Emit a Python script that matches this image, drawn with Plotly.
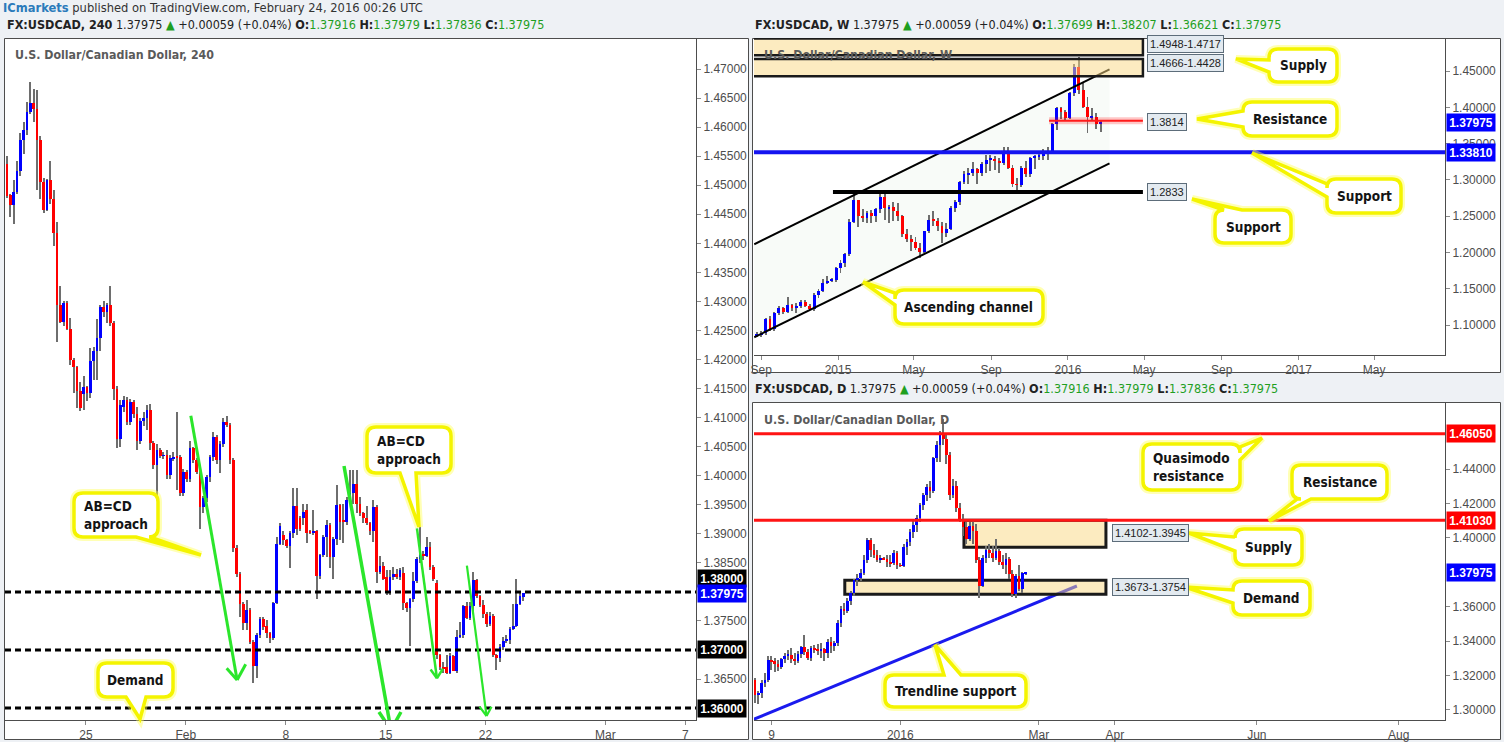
import numpy as np
import pandas as pd
import plotly.graph_objects as go

W, H = 1504, 742
NARROW = "Liberation Sans Narrow, Arial Narrow, DejaVu Sans Condensed, sans-serif"
AXISF = "Liberation Sans, Arial, sans-serif"

# ---------------- 4h candles (USDCAD, 240) ----------------
h4_open = [1.4537,1.4483,1.4466,1.4488,1.4525,1.4578,1.4595,1.4626,1.4641,1.4631,
           1.4577,1.4505,1.4458,1.4509,1.4477,1.4417,1.4293,1.4265,1.4297,1.4253,
           1.4200,1.4187,1.4146,1.4140,1.4152,1.4142,1.4197,1.4214,1.4237,1.4290,
           1.4281,1.4293,1.4262,1.4149,1.4063,1.4118,1.4130,1.4093,1.4127,1.4107,
           1.4059,1.4095,1.4099,1.4113,1.4056,1.4018,1.4045,1.4034,1.4035,1.4001,
           1.4030,1.4033,1.4032,1.3970,1.4007,1.3995,1.4047,1.4027,1.4007,1.3946,
           1.3961,1.3998,1.4032,1.4066,1.4027,1.4055,1.4093,1.4087,1.4027,1.3875,
           1.3831,1.3779,1.3747,1.3768,1.3714,1.3673,1.3726,1.3753,1.3741,1.3729,
           1.3720,1.3781,1.3883,1.3898,1.3889,1.3879,1.3901,1.3948,1.3927,1.3927,
           1.3941,1.3904,1.3902,1.3904,1.3827,1.3864,1.3894,1.3915,1.3860,1.3891,
           1.3950,1.3923,1.3921,1.3958,1.3970,1.3986,1.3952,1.3935,1.3927,1.3919,
           1.3904,1.3946,1.3835,1.3845,1.3826,1.3800,1.3826,1.3831,1.3826,1.3833,
           1.3781,1.3772,1.3787,1.3818,1.3856,1.3864,1.3862,1.3877,1.3843,1.3816,
           1.3691,1.3670,1.3670,1.3660,1.3690,1.3664,1.3723,1.3725,1.3776,1.3755,
           1.3776,1.3820,1.3793,1.3777,1.3762,1.3745,1.3759,1.3691,1.3687,1.3706,
           1.3716,1.3718,1.3737,1.3741,1.3780,1.37916]
h4_high = [1.4550,1.4485,1.4509,1.4542,1.4590,1.4608,1.4644,1.4678,1.4665,1.4664,
           1.4585,1.4512,1.4511,1.4542,1.4492,1.4436,1.4327,1.4300,1.4301,1.4272,
           1.4202,1.4189,1.4162,1.4172,1.4155,1.4219,1.4222,1.4270,1.4293,1.4301,
           1.4298,1.4327,1.4267,1.4155,1.4130,1.4138,1.4135,1.4132,1.4130,1.4119,
           1.4099,1.4110,1.4122,1.4124,1.4060,1.4055,1.4048,1.4040,1.4044,1.4035,
           1.4040,1.4109,1.4036,1.4012,1.4010,1.4059,1.4050,1.4030,1.4010,1.3965,
           1.4002,1.4036,1.4076,1.4070,1.4060,1.4099,1.4103,1.4090,1.4030,1.3880,
           1.3835,1.3783,1.3786,1.3772,1.3718,1.3730,1.3757,1.3757,1.3752,1.3731,
           1.3783,1.3895,1.3919,1.3904,1.3891,1.3904,1.3978,1.3978,1.3930,1.3952,
           1.3952,1.3906,1.3941,1.3906,1.3866,1.3898,1.3924,1.3918,1.3895,1.3984,
           1.3952,1.3952,1.3964,1.4010,1.4010,1.4010,1.3964,1.3938,1.3947,1.3921,
           1.3958,1.3950,1.3862,1.3852,1.3838,1.3838,1.3843,1.3840,1.3841,1.3843,
           1.3783,1.3790,1.3835,1.3860,1.3911,1.3870,1.3895,1.3886,1.3846,1.3820,
           1.3693,1.3680,1.3691,1.3695,1.3691,1.3734,1.3749,1.3777,1.3783,1.3783,
           1.3835,1.3822,1.3795,1.3786,1.3766,1.3766,1.3762,1.3693,1.3710,1.3723,
           1.3726,1.3740,1.3780,1.3822,1.3798,1.37979]
h4_low = [1.4478,1.4445,1.4433,1.4485,1.4516,1.4554,1.4586,1.4622,1.4609,1.4491,
          1.4476,1.4452,1.4456,1.4468,1.4396,1.4230,1.4262,1.4258,1.4250,1.4191,
          1.4142,1.4116,1.4112,1.4113,1.4128,1.4133,1.4165,1.4164,1.4215,1.4273,
          1.4263,1.4258,1.4130,1.4047,1.4050,1.4110,1.4088,1.4088,1.4100,1.4044,
          1.4055,1.4085,1.4079,1.4044,1.4012,1.3949,1.4030,1.4028,1.3995,1.3995,
          1.4025,1.3975,1.3965,1.3965,1.3990,1.3990,1.4022,1.4003,1.3909,1.3935,
          1.3955,1.3990,1.4025,1.4020,1.4004,1.4050,1.4083,1.4020,1.3869,1.3825,
          1.3757,1.3734,1.3734,1.3710,1.3643,1.3651,1.3720,1.3735,1.3720,1.3712,
          1.3717,1.3779,1.3881,1.3881,1.3876,1.3842,1.3892,1.3898,1.3905,1.3915,
          1.3884,1.3900,1.3898,1.3787,1.3822,1.3860,1.3860,1.3842,1.3822,1.3880,
          1.3889,1.3885,1.3915,1.3952,1.3952,1.3935,1.3930,1.3918,1.3915,1.3898,
          1.3886,1.3815,1.3831,1.3820,1.3795,1.3795,1.3820,1.3822,1.3820,1.3769,
          1.3765,1.3707,1.3783,1.3815,1.3850,1.3855,1.3860,1.3838,1.3818,1.3685,
          1.3666,1.3660,1.3658,1.3658,1.3663,1.3660,1.3720,1.3720,1.3753,1.3752,
          1.3763,1.3790,1.3774,1.3755,1.3740,1.3742,1.3688,1.3666,1.3680,1.3700,
          1.3712,1.3710,1.3735,1.3740,1.3778,1.37836]
h4_close = [1.4482,1.4466,1.4488,1.4525,1.4578,1.4595,1.4626,1.4641,1.4631,1.4577,
            1.4505,1.4458,1.4509,1.4477,1.4417,1.4293,1.4265,1.4297,1.4253,1.4200,
            1.4187,1.4146,1.4116,1.4152,1.4142,1.4197,1.4214,1.4237,1.4290,1.4281,
            1.4293,1.4262,1.4149,1.4063,1.4122,1.4130,1.4093,1.4127,1.4107,1.4059,
            1.4095,1.4099,1.4113,1.4056,1.4018,1.4045,1.4034,1.4035,1.4001,1.4030,
            1.4033,1.4032,1.3970,1.4007,1.3995,1.4047,1.4027,1.4007,1.3946,1.3961,
            1.3998,1.4032,1.4066,1.4027,1.4055,1.4093,1.4087,1.4027,1.3875,1.3831,
            1.3779,1.3747,1.3768,1.3714,1.3673,1.3726,1.3753,1.3740,1.3729,1.3720,
            1.3781,1.3883,1.3913,1.3889,1.3879,1.3901,1.3948,1.3908,1.3909,1.3938,
            1.3902,1.3902,1.3904,1.3827,1.3864,1.3894,1.3915,1.3860,1.3891,1.3950,
            1.3921,1.3921,1.3958,1.3970,1.3986,1.3952,1.3935,1.3927,1.3919,1.3904,
            1.3946,1.3835,1.3845,1.3823,1.3800,1.3826,1.3831,1.3826,1.3838,1.3781,
            1.3772,1.3787,1.3818,1.3856,1.3864,1.3862,1.3877,1.3843,1.3823,1.3691,
            1.3670,1.3668,1.3660,1.3690,1.3664,1.3723,1.3725,1.3776,1.3755,1.3776,
            1.3820,1.3793,1.3777,1.3762,1.3745,1.3759,1.3691,1.3687,1.3706,1.3716,
            1.3718,1.3737,1.3741,1.3780,1.3793,1.37975]
h4_tick_pos = [23.7, 53.7, 83.7, 113.7, 143.7, 179.7, 203.7]
h4_tick_text = ["25", "Feb", "8", "15", "22", "Mar", "7"]
h4_price_ticks = [1.365, 1.375, 1.385, 1.39, 1.395, 1.40, 1.405, 1.41, 1.415, 1.42, 1.425,
                  1.43, 1.435, 1.44, 1.445, 1.45, 1.455, 1.46, 1.465, 1.47]
h4_levels = [1.38, 1.37, 1.36]

# ---------------- weekly candles ----------------
w_first_week = "2014-08-25"
w_open = [1.0850,1.0875,1.0890,1.1090,1.0945,1.1160,1.1240,1.1185,1.1275,1.1230,
          1.1265,1.1320,1.1265,1.1225,1.1415,1.1470,1.1585,1.1612,1.1625,1.1780,
          1.1860,1.1980,1.2425,1.2720,1.2500,1.2470,1.2540,1.2500,1.2600,1.2770,
          1.2610,1.2630,1.2570,1.2500,1.2250,1.2180,1.2150,1.2060,1.2010,1.2290,
          1.2450,1.2440,1.2370,1.2270,1.2330,1.2610,1.2690,1.2970,1.3080,1.3100,
          1.3155,1.3090,1.3215,1.3280,1.3290,1.3260,1.3230,1.3398,1.3169,1.2939,
          1.2930,1.3169,1.3077,1.3307,1.3320,1.3330,1.3360,1.3390,1.3766,1.3995,
          1.3935,1.3858,1.4193,1.4560,1.4240,1.4010,1.3860,1.3870,1.37699]
w_high = [1.0900,1.0920,1.1100,1.1120,1.1180,1.1260,1.1250,1.1390,1.1290,1.1300,
          1.1350,1.1340,1.1290,1.1440,1.1500,1.1640,1.1680,1.1650,1.1800,1.1900,
          1.2000,1.2460,1.2800,1.2730,1.2600,1.2570,1.2590,1.2620,1.2835,1.2800,
          1.2660,1.2700,1.2680,1.2510,1.2320,1.2240,1.2220,1.2130,1.2300,1.2510,
          1.2565,1.2480,1.2420,1.2400,1.2640,1.2730,1.2990,1.3120,1.3170,1.3250,
          1.3160,1.3240,1.3350,1.3350,1.3330,1.3300,1.3460,1.3450,1.3200,1.3020,
          1.3190,1.3260,1.3320,1.3340,1.3400,1.3420,1.3460,1.3790,1.4010,1.4005,
          1.3960,1.4210,1.4595,1.4690,1.4330,1.4140,1.3990,1.3920,1.38207]
w_low = [1.0830,1.0840,1.0860,1.0920,1.0920,1.1140,1.1150,1.1170,1.1200,1.1160,
         1.1240,1.1250,1.1210,1.1200,1.1380,1.1450,1.1560,1.1590,1.1600,1.1720,
         1.1800,1.1950,1.2400,1.2350,1.2420,1.2400,1.2400,1.2420,1.2540,1.2450,
         1.2400,1.2440,1.2440,1.2220,1.2140,1.2020,1.2030,1.1920,1.1990,1.2270,
         1.2360,1.2290,1.2130,1.2220,1.2310,1.2560,1.2650,1.2940,1.2950,1.3050,
         1.2950,1.3060,1.3100,1.3120,1.3130,1.3090,1.3210,1.3150,1.2900,1.2832,
         1.2900,1.3040,1.3040,1.3150,1.3270,1.3270,1.3280,1.3380,1.3690,1.3840,
         1.3820,1.3840,1.4150,1.4180,1.3990,1.3650,1.3820,1.3705,1.36621]
w_close = [1.0875,1.0890,1.1090,1.0945,1.1160,1.1240,1.1185,1.1275,1.1230,1.1265,
           1.1320,1.1265,1.1225,1.1415,1.1470,1.1585,1.1612,1.1625,1.1780,1.1860,
           1.1980,1.2425,1.2720,1.2500,1.2470,1.2540,1.2500,1.2600,1.2770,1.2610,
           1.2630,1.2570,1.2500,1.2250,1.2180,1.2150,1.2060,1.2010,1.2290,1.2450,
           1.2440,1.2370,1.2270,1.2330,1.2610,1.2690,1.2970,1.3080,1.3100,1.3155,
           1.3090,1.3215,1.3280,1.3290,1.3260,1.3230,1.3398,1.3169,1.2939,1.2930,
           1.3169,1.3077,1.3307,1.3320,1.3330,1.3360,1.3390,1.3766,1.3995,1.3935,
           1.3858,1.4193,1.4560,1.4240,1.4010,1.3860,1.3870,1.3770,1.37975]
w_tick_dates = ["2014-09-01", "2015-01-01", "2015-05-01", "2015-09-01", "2016-01-01",
                "2016-05-01", "2016-09-01", "2017-01-01", "2017-05-01"]
w_tick_text = ["Sep", "2015", "May", "Sep", "2016", "May", "Sep", "2017", "May"]
w_supply_zones = [(1.4717, 1.4948), (1.4428, 1.4666)]
w_resistance = 1.3814
w_support = 1.3381
w_support2 = 1.2833

# ---------------- daily candles ----------------
d_first_index = -5   # 2 Nov 2015; index 0 = 9 Nov 2015 (trading days)
d_open = [1.3170,1.3085,1.3095,1.3155,1.3175, 1.3290,1.3280,1.3268,1.3250,1.3292,
          1.3312,1.3318,1.3295,1.3280,1.3322, 1.3362,1.3335,1.3300,1.3360,1.3352,
          1.3345,1.3352,1.3330,1.3392,1.3372, 1.3388,1.3505,1.3585,1.3576,1.3630,
          1.3680,1.3755,1.3765,1.3795,1.3870, 1.3985,1.3930,1.3900,1.3868,1.3882,
          1.3875,1.3860,1.3852,1.3912,1.3840, 1.3836,1.3945,1.3972,1.4030,1.4072,
          1.4115,1.4190,1.4250,1.4292,1.4270, 1.4460,1.4540,1.4605,1.4575,1.4480,
          1.4250,1.4300,1.4170,1.4110,1.4060, 1.3990,1.4065,1.4040,1.3870,1.3720,
          1.3880,1.3930,1.3910,1.3880,1.3925, 1.3860,1.3840,1.3875,1.3790,1.3670,
          1.3775,1.3700,1.37916]
d_high = [1.3185,1.3110,1.3170,1.3210,1.3310, 1.3310,1.3300,1.3290,1.3300,1.3330,
          1.3345,1.3360,1.3330,1.3340,1.3370, 1.3436,1.3350,1.3370,1.3375,1.3380,
          1.3390,1.3360,1.3410,1.3420,1.3400, 1.3520,1.3600,1.3620,1.3650,1.3690,
          1.3760,1.3790,1.3820,1.3900,1.3995, 1.3995,1.3960,1.3930,1.3900,1.3890,
          1.3900,1.3900,1.3930,1.3920,1.3850, 1.3960,1.3990,1.4050,1.4100,1.4130,
          1.4200,1.4260,1.4310,1.4330,1.4470, 1.4560,1.4620,1.4690,1.4610,1.4500,
          1.4340,1.4330,1.4200,1.4140,1.4090, 1.4090,1.4100,1.4080,1.3890,1.3900,
          1.3950,1.3960,1.3950,1.3990,1.3940, 1.3900,1.3910,1.3885,1.3810,1.3790,
          1.3840,1.3800,1.37979]
d_low = [1.3040,1.3035,1.3070,1.3130,1.3160, 1.3230,1.3220,1.3225,1.3235,1.3270,
         1.3290,1.3270,1.3260,1.3270,1.3300, 1.3320,1.3290,1.3280,1.3330,1.3320,
         1.3300,1.3280,1.3300,1.3330,1.3340, 1.3370,1.3480,1.3550,1.3560,1.3610,
         1.3660,1.3720,1.3745,1.3780,1.3850, 1.3890,1.3880,1.3860,1.3850,1.3868,
         1.3830,1.3830,1.3840,1.3820,1.3830, 1.3830,1.3900,1.3950,1.4000,1.4030,
         1.4090,1.4160,1.4210,1.4230,1.4260, 1.4440,1.4440,1.4540,1.4430,1.4220,
         1.4230,1.4150,1.4090,1.4010,1.3960, 1.3980,1.3960,1.3850,1.3650,1.3710,
         1.3850,1.3880,1.3860,1.3870,1.3840, 1.3820,1.3790,1.3760,1.3655,1.3650,
         1.3690,1.3680,1.37836]
d_close = [1.3085,1.3095,1.3155,1.3175,1.3290, 1.3280,1.3268,1.3250,1.3292,1.3312,
           1.3318,1.3295,1.3280,1.3322,1.3362, 1.3335,1.3300,1.3360,1.3352,1.3345,
           1.3352,1.3330,1.3392,1.3372,1.3388, 1.3505,1.3585,1.3576,1.3630,1.3680,
           1.3755,1.3765,1.3795,1.3870,1.3985, 1.3930,1.3900,1.3868,1.3882,1.3875,
           1.3860,1.3852,1.3912,1.3840,1.3836, 1.3945,1.3972,1.4030,1.4072,1.4115,
           1.4190,1.4250,1.4292,1.4270,1.4460, 1.4540,1.4605,1.4575,1.4480,1.4250,
           1.4300,1.4170,1.4110,1.4060,1.3990, 1.4065,1.4040,1.3870,1.3720,1.3880,
           1.3930,1.3910,1.3880,1.3925,1.3860, 1.3840,1.3875,1.3790,1.3670,1.3775,
           1.3700,1.3792,1.37975]
d_tick_pos = [0, 39, 81, 104, 147, 190]
d_tick_text = ["9", "2016", "Mar", "Apr", "Jun", "Aug"]
d_price_ticks = [1.30, 1.32, 1.34, 1.36, 1.40, 1.42, 1.44]
d_qm_resistance = 1.4605
d_resistance = 1.4103
d_supply = (1.3945, 1.4102)
d_demand = (1.3673, 1.3754)
last_price = 1.37975

# ---------------- helpers ----------------
UP, DN, WICK = "#0000ff", "#ff0000", "#6e6e6e"


def candles(x, o, h, l, c, xa, ya, body_w, wick_w, min_body):
    o, h, l, c = map(np.asarray, (o, h, l, c))
    x = np.asarray(x)
    out = [go.Bar(x=x, y=h - l, base=l, width=wick_w, xaxis=xa, yaxis=ya,
                  marker=dict(color=WICK, line=dict(width=0)), hoverinfo="skip")]
    base = np.minimum(o, c)
    hgt = np.maximum(np.abs(c - o), min_body)
    up = c >= o
    for m, col in ((up, UP), (~up, DN)):
        out.append(go.Bar(x=x[m], y=hgt[m], base=base[m], width=body_w, xaxis=xa, yaxis=ya,
                          marker=dict(color=col, line=dict(width=0)), hoverinfo="skip"))
    return out


def P(x, y):
    return f"{x / W:.5f},{1 - y / H:.5f}"


def callout_path(box, side, b0, b1, tip, r=9):
    x0, y0, x1, y1 = box
    tx, ty = tip
    s = f"M {P(x0 + r, y0)}"
    if side == "top":
        s += f" L {P(b0, y0)} L {P(tx, ty)} L {P(b1, y0)}"
    s += f" L {P(x1 - r, y0)} Q {P(x1, y0)} {P(x1, y0 + r)}"
    if side == "right":
        s += f" L {P(x1, b0)} L {P(tx, ty)} L {P(x1, b1)}"
    s += f" L {P(x1, y1 - r)} Q {P(x1, y1)} {P(x1 - r, y1)}"
    if side == "bottom":
        s += f" L {P(b1, y1)} L {P(tx, ty)} L {P(b0, y1)}"
    s += f" L {P(x0 + r, y1)} Q {P(x0, y1)} {P(x0, y1 - r)}"
    if side == "left":
        s += f" L {P(x0, b1)} L {P(tx, ty)} L {P(x0, b0)}"
    s += f" L {P(x0, y0 + r)} Q {P(x0, y0)} {P(x0 + r, y0)} Z"
    return s


fig = go.Figure()

h4_x = np.arange(len(h4_open))
for t in candles(h4_x, h4_open, h4_high, h4_low, h4_close, "x", "y", 0.8, 0.32, 0.00008):
    fig.add_trace(t)

w_x = pd.date_range(w_first_week, periods=len(w_open), freq="7D")
DAY = 86400000
for t in candles(w_x, w_open, w_high, w_low, w_close, "x2", "y2", 4.6 * DAY, 1.5 * DAY, 0.0008):
    fig.add_trace(t)

d_x = np.arange(len(d_open)) + d_first_index
for t in candles(d_x, d_open, d_high, d_low, d_close, "x3", "y3", 0.8, 0.32, 0.0003):
    fig.add_trace(t)

shapes = []
annotations = []

# panel backgrounds / frames
for (x0, y0, x1, y1) in [(4.5, 38.5, 748.5, 739.5), (752.5, 38.5, 1500.5, 372.5),
                         (752.5, 402.5, 1500.5, 739.5)]:
    shapes.append(dict(type="rect", xref="paper", yref="paper", x0=x0 / W, x1=x1 / W,
                       y0=1 - y1 / H, y1=1 - y0 / H, fillcolor="white",
                       line=dict(color="#4d4d4d", width=1), layer="below"))

# ---- 4h panel drawings ----
for lv in h4_levels:
    shapes.append(dict(type="line", xref="x domain", yref="y", x0=0, x1=1, y0=lv, y1=lv,
                       line=dict(color="black", width=3, dash="6px,4px")))

green = "#2be62b"
arrows = [
    ((55.2, 1.41033), (69.1, 1.36484), [(65.96, 1.36685), (71.68, 1.36754)], 3),
    ((101.2, 1.40167), (115.3, 1.35623), [(111.7, 1.35933), (118.3, 1.35933)], 3.5),
    ((123.1, 1.39094), (129.1, 1.36513), [(127.2, 1.36663), (130.9, 1.36680)], 2.5),
    ((138.1, 1.38451), (144.0, 1.35864), [(141.9, 1.36024), (145.5, 1.36024)], 2.2),
]
for (s, e, legs, wd) in arrows:
    shapes.append(dict(type="line", xref="x", yref="y", x0=s[0], y0=s[1], x1=e[0], y1=e[1],
                       line=dict(color=green, width=wd)))
    for lg in legs:
        shapes.append(dict(type="line", xref="x", yref="y", x0=lg[0], y0=lg[1], x1=e[0], y1=e[1],
                           line=dict(color=green, width=wd)))

# ---- weekly panel drawings ----
shapes.append(dict(type="path", xref="x2", yref="y2", layer="below",
                   path="M 2014-08-21,1.2113 L 2016-03-07,1.4523 L 2016-03-07,1.3229 L 2014-08-21,1.0832 Z",
                   fillcolor="rgba(225,235,225,0.22)", line=dict(width=0)))
shapes.append(dict(type="line", xref="x2", yref="y2", x0="2014-08-21", y0=1.2113,
                   x1="2016-03-07", y1=1.4523, line=dict(color="black", width=2)))
shapes.append(dict(type="line", xref="x2", yref="y2", x0="2014-08-21", y0=1.0832,
                   x1="2016-03-07", y1=1.3229, line=dict(color="black", width=2)))
for (lo, hi) in w_supply_zones:
    shapes.append(dict(type="rect", xref="x2", yref="y2", x0="2014-08-10", x1="2016-04-29",
                       y0=lo, y1=hi, fillcolor="rgba(250,215,130,0.5)",
                       line=dict(color="#1a1a1a", width=2.5)))
shapes.append(dict(type="line", xref="x2", yref="y2", x0="2015-12-02", x1="2016-04-29",
                   y0=w_resistance, y1=w_resistance, line=dict(color="rgba(255,0,0,0.22)", width=7)))
shapes.append(dict(type="line", xref="x2", yref="y2", x0="2015-12-02", x1="2016-04-29",
                   y0=w_resistance, y1=w_resistance, line=dict(color="#ff1a1a", width=2)))
shapes.append(dict(type="line", xref="x2", yref="y2", x0="2014-12-24", x1="2016-04-29",
                   y0=w_support2, y1=w_support2, line=dict(color="black", width=4)))
shapes.append(dict(type="line", xref="x2 domain", yref="y2", x0=0, x1=1,
                   y0=w_support, y1=w_support, line=dict(color="#1414f0", width=4)))

# ---- daily panel drawings ----
shapes.append(dict(type="line", xref="x3", yref="y3", x0=-5.4, y0=1.29453, x1=92.5, y1=1.37203,
                   line=dict(color="#1a1aee", width=3), layer="below"))
for (lo, hi), x0 in ((d_supply, 58.3), (d_demand, 22.2)):
    shapes.append(dict(type="rect", xref="x3", yref="y3", x0=x0, x1=101.3, y0=lo, y1=hi,
                       fillcolor="rgba(250,215,130,0.5)", line=dict(color="#1a1a1a", width=3),
                       layer="below"))
for lv in (d_qm_resistance, d_resistance):
    shapes.append(dict(type="line", xref="x3 domain", yref="y3", x0=0, x1=1, y0=lv, y1=lv,
                       line=dict(color="#ff1414", width=3)))

# ---- price-axis tags ----
def tag(text, y, yref, x0, bg, yshift=0):
    annotations.append(dict(x=x0 / W, xref="paper", xanchor="left", y=y, yref=yref,
                            yanchor="middle", yshift=yshift, showarrow=False,
                            text=f"<b>{text}</b>", bgcolor=bg, width=46, height=15,
                            borderpad=1, font=dict(family=AXISF, size=12, color="white")))

tag("1.38000", 1.38, "y", 697, "black", yshift=13)
tag("1.37000", 1.37, "y", 697, "black")
tag("1.36000", 1.36, "y", 697, "black")
tag(f"{last_price:.5f}", last_price, "y", 697, "#0000ff")
tag(f"{last_price:.5f}", last_price, "y2", 1446, "#0000ff")
tag(f"{w_support:.5f}", w_support, "y2", 1446, "#0000ff")
tag(f"{d_qm_resistance:.5f}", d_qm_resistance, "y3", 1446, "#ff0000")
tag(f"{d_resistance:.5f}", d_resistance, "y3", 1446, "#ff0000")
tag(f"{last_price:.5f}", last_price, "y3", 1446, "#0000ff")

# zone / level labels
def label(text, x, y):
    annotations.append(dict(x=x / W, xref="paper", xanchor="left", y=1 - y / H, yref="paper",
                            yanchor="middle", showarrow=False, text=text, bgcolor="#e3eaf0",
                            bordercolor="#5d6d7a", borderwidth=1, borderpad=2,
                            font=dict(family=AXISF, size=11, color="#222")))

label("1.4948-1.4717", 1147, 44.5)
label("1.4666-1.4428", 1147, 62.5)
label("1.3814", 1147, 122)
label("1.2833", 1147, 192)
label("1.4102-1.3945", 1112, 533)
label("1.3673-1.3754", 1112, 587)

# ---- callouts ----
callouts = [
    ((74, 493, 158, 537), "bottom", 136, 150, (201, 555), "AB=CD<br>approach"),
    ((367, 427, 451, 473), "bottom", 400, 416, (419, 527), "AB=CD<br>approach"),
    ((98, 663, 173, 697), "bottom", 126, 146, (140, 719), "Demand"),
    ((1269, 49, 1337, 82), "left", 60, 72, (1236, 59), "Supply"),
    ((1243, 102, 1337, 136), "left", 111, 127, (1197, 119), "Resistance"),
    ((1327, 179, 1401, 213), "left", 184, 197, (1252, 153), "Support"),
    ((1215, 210, 1291, 243), "top", 1224, 1242, (1192, 199), "Support"),
    ((895, 290, 1043, 324), "left", 293, 305, (863, 282), "Ascending channel"),
    ((1143, 444, 1240, 490), "right", 447, 460, (1262, 438), "Quasimodo<br>resistance"),
    ((1292, 465, 1387, 499), "bottom", 1297, 1311, (1269, 521), "Resistance"),
    ((1235, 529, 1302, 565), "left", 537, 551, (1189, 533), "Supply"),
    ((1233, 581, 1310, 615), "left", 590, 603, (1185, 587), "Demand"),
    ((885, 675, 1026, 707), "top", 944, 961, (935, 645), "Trendline support"),
]
for box, side, b0, b1, tip, text in callouts:
    pth = callout_path(box, side, b0, b1, tip)
    shapes.append(dict(type="path", xref="paper", yref="paper", path=pth,
                       fillcolor="rgba(0,0,0,0)", line=dict(color="rgba(255,255,90,0.45)", width=8)))
    shapes.append(dict(type="path", xref="paper", yref="paper", path=pth,
                       fillcolor="white", line=dict(color="#f4f400", width=3.5)))
    x0, y0, x1, y1 = box
    annotations.append(dict(x=(x0 + x1) / 2 / W, y=1 - (y0 + y1) / 2 / H, xref="paper", yref="paper",
                            xanchor="center", yanchor="middle", align="left", showarrow=False,
                            text=f"<b>{text}</b>", font=dict(family=NARROW, size=13.5, color="#141414")))

# ---- headers / titles ----
G = "#1f9f1f"
def header(name, o, h, l, c):
    return (f"<b>FX:USDCAD, {name}</b> 1.37975 <span style='color:{G}'>▲</span> +0.00059 (+0.04%) "
            f"<b>O:</b><span style='color:{G}'>{o}</span> <b>H:</b><span style='color:{G}'>{h}</span> "
            f"<b>L:</b><span style='color:{G}'>{l}</span> <b>C:</b><span style='color:{G}'>{c}</span>")

def text_at(txt, x, y, size=14, color="#222"):
    annotations.append(dict(x=x / W, y=1 - y / H, xref="paper", yref="paper", xanchor="left",
                            yanchor="middle", showarrow=False, text=txt,
                            font=dict(family=NARROW, size=size, color=color)))

text_at("<span style='color:#2b7bbb'><b>ICmarkets</b></span> published on TradingView.com, February 24, 2016 00:26 UTC",
        1, 8, 12.8, "#333")
text_at(header("240", "1.37916", "1.37979", "1.37836", "1.37975"), 5, 24, 12.5)
text_at(header("W", "1.37699", "1.38207", "1.36621", "1.37975"), 753, 24, 12.5)
text_at(header("D", "1.37916", "1.37979", "1.37836", "1.37975"), 753, 388, 12.5)
text_at("<b>U.S. Dollar/Canadian Dollar, 240</b>", 13, 55, 12.3, "#5a5a5a")
text_at("<b>U.S. Dollar/Canadian Dollar, W</b>", 762, 55, 12.3, "#5a5a5a")
text_at("<b>U.S. Dollar/Canadian Dollar, D</b>", 762, 420, 12.3, "#5a5a5a")

axis_base = dict(showgrid=False, zeroline=False, showline=True, linecolor="#4d4d4d", linewidth=1,
                 ticks="outside", ticklen=4, tickcolor="#8a8a8a",
                 tickfont=dict(family=AXISF, size=12, color="#4d4d4d"), fixedrange=True)

fig.update_layout(
    width=W, height=H, margin=dict(l=0, r=0, t=0, b=0, pad=0, autoexpand=False),
    paper_bgcolor="#eef1f5", plot_bgcolor="white",
    barmode="overlay", bargap=0, showlegend=False,
    xaxis=dict(axis_base, domain=[5 / W, 696 / W], range=[-0.6, 206.9], anchor="y",
               tickmode="array", tickvals=h4_tick_pos, ticktext=h4_tick_text),
    yaxis=dict(axis_base, domain=[1 - 720 / H, 1 - 38 / H], range=[1.35795, 1.47534], side="right",
               anchor="x", tickmode="array", tickvals=h4_price_ticks,
               ticktext=[f"{v:.5f}" for v in h4_price_ticks]),
    xaxis2=dict(axis_base, type="date", domain=[754 / W, 1445 / W],
                range=["2014-08-20 16:00", "2017-08-21 12:00"], anchor="y2",
                tickmode="array", tickvals=w_tick_dates, ticktext=w_tick_text),
    yaxis2=dict(axis_base, domain=[1 - 355 / H, 1 - 38 / H], range=[1.0588, 1.4955], side="right",
                anchor="x2", tickmode="linear", tick0=1.0, dtick=0.05, tickformat=".5f"),
    xaxis3=dict(axis_base, domain=[754 / W, 1445 / W], range=[-5.3, 204], anchor="y3",
                tickmode="array", tickvals=d_tick_pos, ticktext=d_tick_text),
    yaxis3=dict(axis_base, domain=[1 - 720 / H, 1 - 402.3 / H], range=[1.29413, 1.47884], side="right",
                anchor="x3", tickmode="array", tickvals=d_price_ticks,
                ticktext=[f"{v:.5f}" for v in d_price_ticks]),
    shapes=shapes, annotations=annotations,
)

fig.write_html("out.html", config={"displayModeBar": False, "responsive": False},
               post_script="document.body.style.margin='0';document.body.style.overflow='hidden';")
